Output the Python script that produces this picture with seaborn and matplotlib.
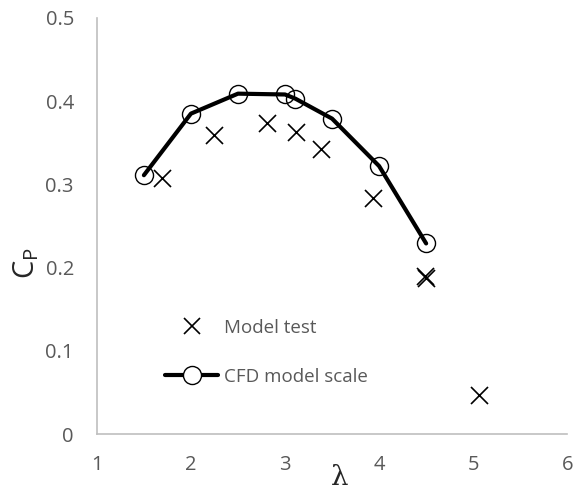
import matplotlib
matplotlib.use("Agg")
import matplotlib.pyplot as plt
import seaborn as sns
import pandas as pd
from matplotlib.lines import Line2D

# Data
cfd_lambda = [1.5, 2.0, 2.5, 3.0, 3.11, 3.5, 4.0, 4.5]
cfd_cp = [0.311, 0.385, 0.409, 0.408, 0.403, 0.379, 0.322, 0.229]
test_lambda = [1.69, 2.25, 2.81, 3.12, 3.38, 3.93, 4.49, 4.50, 5.06]
test_cp = [0.308, 0.359, 0.374, 0.363, 0.343, 0.284, 0.190, 0.188, 0.047]
x_ticks = [1, 2, 3, 4, 5, 6]
y_ticks = [0, 0.1, 0.2, 0.3, 0.4, 0.5]
y_tick_labels = ["0", "0.1", "0.2", "0.3", "0.4", "0.5"]

sns.set_theme(style="white")
plt.rcParams["font.family"] = ["Open Sans", "DejaVu Sans"]
plt.rcParams["mathtext.default"] = "regular"

fig = plt.figure(figsize=(5.8, 4.98), dpi=100)
ax = fig.add_axes([0.167, 0.1285, 0.811, 0.8355])

cfd = pd.DataFrame({"lam": cfd_lambda, "cp": cfd_cp})
test = pd.DataFrame({"lam": test_lambda, "cp": test_cp})

sns.lineplot(data=cfd, x="lam", y="cp", ax=ax, color="black", linewidth=3,
             marker="o", markersize=13, markerfacecolor="none",
             markeredgecolor="black", markeredgewidth=1.0, sort=False)
sns.scatterplot(data=test, x="lam", y="cp", ax=ax, marker="x", s=150,
                color="black", linewidth=1.2)

ax.set_xlim(1, 6)
ax.set_ylim(0, 0.5)
ax.set_xticks(x_ticks)
ax.set_yticks(y_ticks)
ax.set_yticklabels(y_tick_labels)
ax.tick_params(axis="both", length=0, labelsize=14.5, labelcolor="#595959")
ax.tick_params(axis="x", pad=15)
ax.tick_params(axis="y", pad=16.5)

for s in ["top", "right"]:
    ax.spines[s].set_visible(False)
for s in ["left", "bottom"]:
    ax.spines[s].set_color("#bfbfbf")
    ax.spines[s].set_linewidth(1.2)

ax.set_xlabel("λ", fontsize=20, family=["DejaVu Serif"], va="top")
ax.xaxis.set_label_coords(0.517, -0.072)
ax.set_ylabel("C$_P$", fontsize=21)
ax.yaxis.set_label_coords(-0.118, 0.41)

handles = [
    Line2D([], [], color="black", marker="x", linestyle="none", markersize=12,
           markeredgewidth=1.2),
    Line2D([], [], color="black", linewidth=3, marker="o", markersize=13,
           markerfacecolor="white", markeredgecolor="black", markeredgewidth=1.0),
]
leg = ax.legend(handles, ["Model test", "CFD model scale"], loc="upper left",
                bbox_to_anchor=(0.11, 0.318), frameon=False, fontsize=13.5,
                handlelength=2.8, handletextpad=0.3, labelspacing=1.65)
for t in leg.get_texts():
    t.set_color("#595959")

fig.savefig("out.png", dpi=100)
